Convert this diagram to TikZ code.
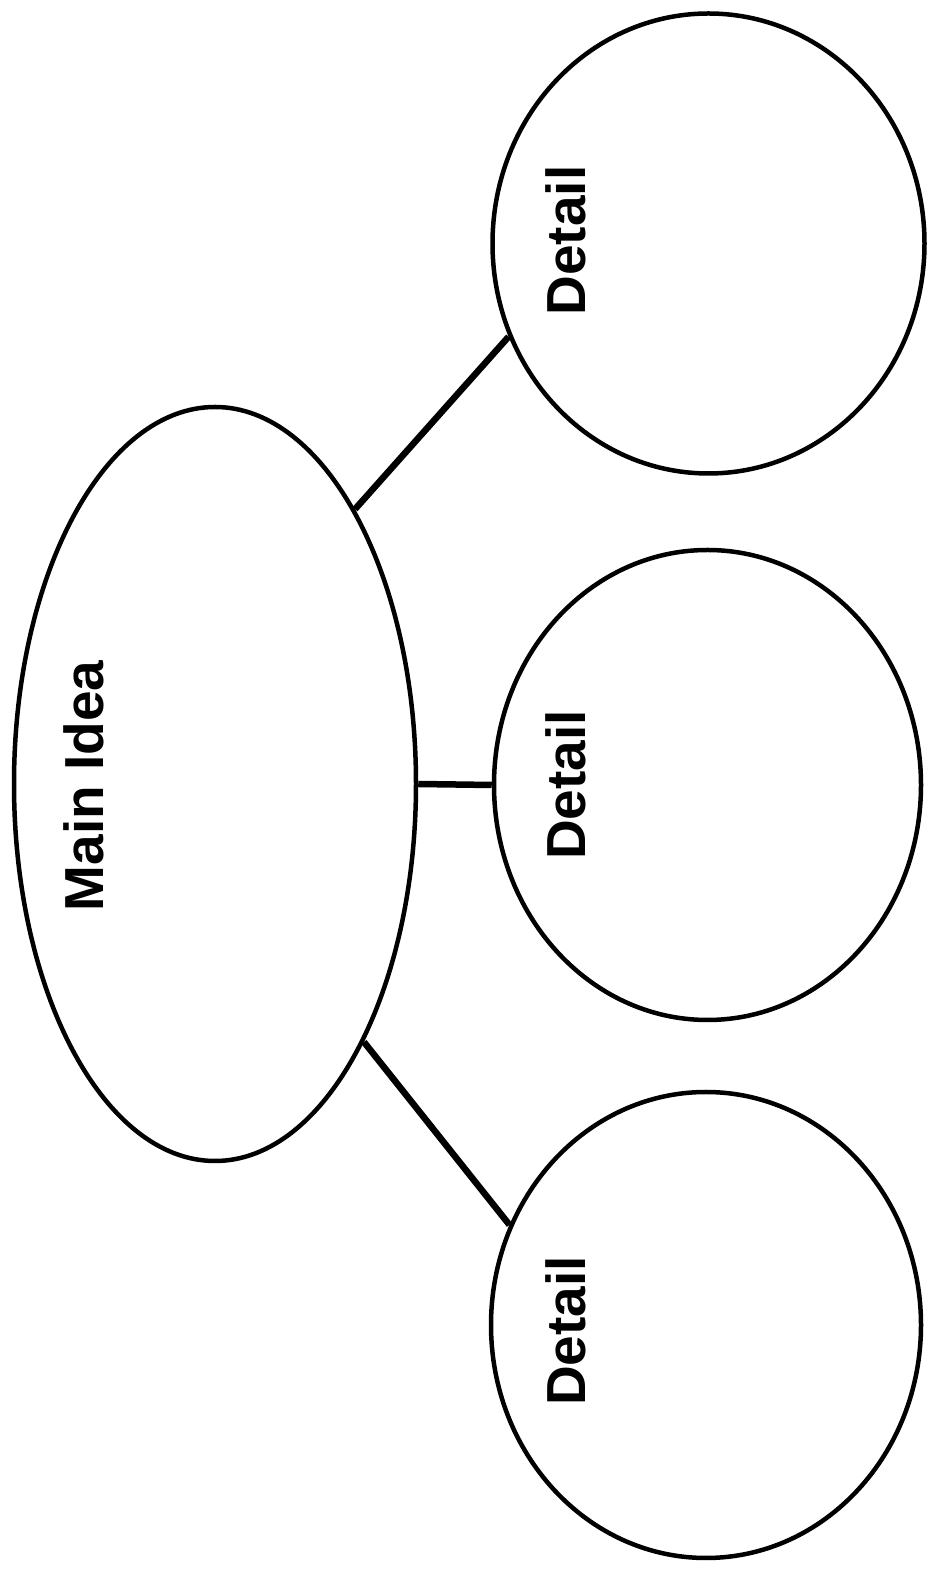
\documentclass[tikz,border=0pt]{standalone}
\usepackage{fontspec}
\setmainfont{Liberation Sans}
\usetikzlibrary{shapes.geometric}

\begin{document}
\begin{tikzpicture}[x=1pt,y=1pt,
    bubble/.style={draw, ellipse, line width=4.5pt, inner sep=0pt},
    link/.style={line width=6.5pt},
    word/.style={rotate=90, inner sep=0pt, font=\fontsize{55}{60}\selectfont\bfseries}]
            \useasboundingbox (0,0) rectangle (931,1575);
            \node[bubble, minimum width=432, minimum height=460] (d1) at (708.5,1331.5) {};
            \node[bubble, minimum width=427, minimum height=470] (d2) at (707.5,790) {};
            \node[bubble, minimum width=430, minimum height=466] (d3) at (706,250) {};
            \node[bubble, minimum width=402, minimum height=754] (main) at (215,791) {};
            \node[word] (mainlbl) at (84,789) {Main Idea};
            \node[word] (d1lbl) at (566,1334.5) {Detail};
            \node[word] (d2lbl) at (566,790) {Detail};
            \node[word] (d3lbl) at (566,244) {Detail};
            \draw[link] (main.63.5) -- (d1.205.5);
            \draw[link] (main.east) -- (d2.west);
            \draw[link] (main.-60.6) -- (d3.153.1);
        \end{tikzpicture}
\end{document}
